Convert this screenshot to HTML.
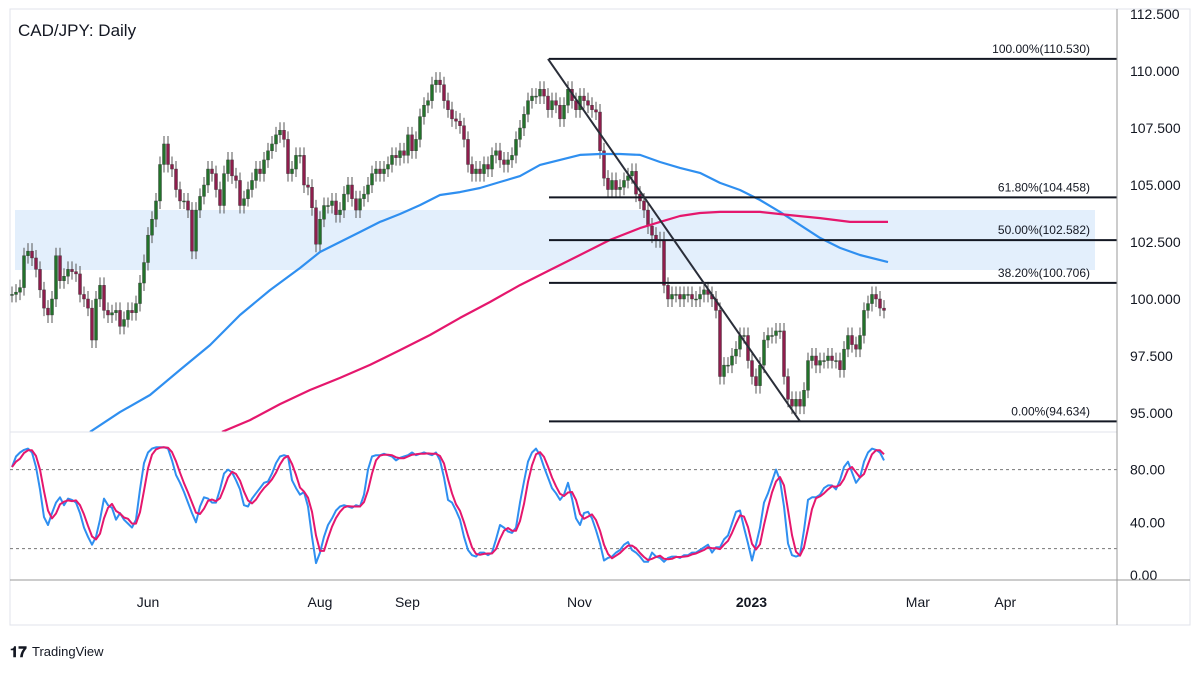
<!DOCTYPE html>
<html><head><meta charset="utf-8"><style>
html,body{margin:0;padding:0;background:#fff;}
svg{display:block;font-family:"Liberation Sans",sans-serif;}
</style></head><body>
<svg id="chart" width="1200" height="675" viewBox="0 0 1200 675" xmlns="http://www.w3.org/2000/svg">
<defs>
<clipPath id="mainClip"><rect x="10" y="9" width="1107" height="423"/></clipPath>
<clipPath id="stochClip"><rect x="10" y="433" width="1107" height="147"/></clipPath>
</defs>
<rect x="10" y="9" width="1180" height="616" fill="#fff" stroke="#e0e3eb"/>
<rect x="15" y="210" width="1080" height="60" fill="#e3effc"/>
<g id="mainG" clip-path="url(#mainClip)"></g>
<g id="stochG" clip-path="url(#stochClip)"></g>
<g id="axisG"></g>
<line x1="10" y1="432" x2="1117" y2="432" stroke="#e0e3eb"/>
<line x1="1117" y1="9" x2="1117" y2="625" stroke="#999"/>
<line x1="10" y1="580" x2="1190" y2="580" stroke="#999"/>
<text x="18" y="36" font-size="17" fill="#131722">CAD/JPY: Daily</text>
<g>
<text x="10" y="657" font-size="15" font-weight="bold" fill="#131722">𝟏𝟕</text>
<text x="32" y="656" font-size="13" fill="#131722">TradingView</text>
</g>
</svg>
<script>
const closes=[100.2,100.3,100.5,101.9,102.1,101.8,101.3,100.4,99.6,99.3,100.0,101.9,100.8,101.0,101.3,101.2,101.1,100.2,100.0,99.6,98.2,100.0,100.6,99.5,99.3,99.4,99.5,98.8,99.1,99.5,99.4,99.8,100.7,101.6,102.8,103.5,104.3,105.9,106.8,105.9,105.7,104.8,104.3,104.3,103.9,102.1,103.9,104.5,105.0,105.7,105.5,104.8,104.1,105.5,106.1,105.4,105.2,104.1,104.4,104.8,105.2,105.7,105.5,106.1,106.5,106.8,107.2,107.4,107.0,105.5,105.7,106.3,106.3,105.0,104.9,104.0,102.4,103.5,104.1,104.1,104.3,103.7,103.9,104.6,105.0,104.4,103.9,104.4,104.6,105.0,105.5,105.7,105.5,105.7,105.9,106.3,106.2,106.5,106.3,107.2,106.5,107.0,108.0,108.5,108.7,109.4,109.6,109.4,108.7,108.3,107.9,107.8,107.6,107.0,105.9,105.5,105.7,105.5,105.9,105.7,106.3,106.5,106.1,105.9,106.1,106.3,107.0,107.5,108.1,108.7,108.9,108.9,109.2,108.9,108.3,108.7,108.5,107.9,108.5,109.2,108.7,108.3,108.9,108.7,108.5,108.3,108.2,106.5,105.3,104.8,105.2,104.8,104.9,105.2,105.4,105.6,104.6,104.3,103.9,103.2,102.8,102.6,102.6,100.6,100.0,100.2,100.2,100.0,100.2,100.2,100.0,100.0,100.2,100.4,100.2,100.0,99.5,96.6,97.1,97.1,97.5,97.8,98.4,98.4,97.3,96.6,96.2,97.1,98.2,98.4,98.4,98.6,98.6,96.6,95.6,95.3,95.6,95.3,96.0,97.3,97.5,97.1,97.3,97.3,97.5,97.3,97.3,96.9,97.8,98.4,98.0,97.8,98.4,99.5,99.8,100.2,100.0,99.6,99.5];
const stochK=[82,90,93,95,96,93,82,65,44,38,47,55,59,53,58,57,55,47,36,29,23,29,42,58,53,51,42,47,42,39,36,42,65,85,93,96,97,97,97,96,87,76,70,63,55,47,40,52,59,58,55,55,65,77,80,78,72,65,53,52,58,62,66,70,71,77,85,90,91,90,72,66,61,63,52,29,9,17,29,38,43,49,52,53,52,51,53,52,61,80,90,91,91,92,91,90,87,89,90,91,93,91,92,93,92,91,93,87,74,57,55,49,42,29,19,15,14,17,17,15,17,27,38,36,33,32,36,55,71,86,93,96,91,82,74,66,62,57,61,70,58,43,38,47,48,43,34,24,11,13,14,17,19,23,25,19,17,14,10,10,17,14,13,10,13,14,14,13,15,15,17,17,19,21,23,17,21,21,27,30,39,48,49,36,24,11,23,36,55,62,71,80,72,52,24,15,14,15,34,57,59,59,61,66,68,68,65,72,82,86,78,70,74,86,93,96,95,93,87];
const ma100Idx=[19.5,27,34.5,42,49.5,57,64.5,72,77,82,87,92,97,102,107,112,117,122,127,132,137,142,147,152,157,162,167,172,177,182,187,192,197,202,207,212,219];
const ma100Val=[94.17,95.04,95.79,96.89,97.98,99.30,100.39,101.36,102.06,102.50,102.94,103.38,103.73,104.12,104.56,104.69,104.87,105.13,105.39,105.88,106.10,106.32,106.36,106.36,106.32,106.01,105.75,105.53,105.09,104.78,104.34,103.82,103.25,102.68,102.24,101.93,101.62];
const ma200Idx=[52.5,59.5,67,74.5,82,89.5,97,104.5,112,119.5,127,134.5,142,149.5,157,162,167,172,177,187,194.5,202,209.5,219];
const ma200Val=[94.17,94.69,95.39,96.01,96.54,97.11,97.76,98.42,99.17,99.87,100.61,101.27,101.93,102.59,103.11,103.38,103.64,103.77,103.82,103.82,103.68,103.55,103.38,103.38];
const fibLevels=[110.530,104.458,102.582,100.706,94.634];
const fibLabels=["100.00%(110.530)","61.80%(104.458)","50.00%(102.582)","38.20%(100.706)","0.00%(94.634)"];
const priceTicks=[112.5,110,107.5,105,102.5,100,97.5,95];
const priceTickLabels=["112.500","110.000","107.500","105.000","102.500","100.000","97.500","95.000"];
const stochTicks=[80,40,0];
const stochTickLabels=["80.00","40.00","0.00"];
const timeLabels=["Jun","Aug","Sep","Nov","2023","Mar","Apr"];
const timeDays=[0,61,92,153,214,273,304]; // days since Jun 1
const trendStart=[134,110.53], trendEnd=[197,94.634];

const NS="http://www.w3.org/2000/svg";
const xB=i=>12+4*i;
const yP=p=>71+(110-p)*22.8;
const yS=v=>575-v*1.317;
const xD=d=>148+d*2.82;
function mk(tag,attrs,parent){const e=document.createElementNS(NS,tag);for(const k in attrs)e.setAttribute(k,attrs[k]);parent.appendChild(e);return e;}
const mainG=document.getElementById('mainG'),stochG=document.getElementById('stochG'),axisG=document.getElementById('axisG');

// candles
for(let i=0;i<closes.length;i++){
  const c=closes[i],o=i?closes[i-1]:c;
  const hi=Math.max(o,c)+0.35,lo=Math.min(o,c)-0.35;
  const up=c>=o,x=xB(i);
  const w=mk('line',{x1:x,x2:x,y1:yP(hi),y2:yP(lo),stroke:'#555','stroke-width':1},mainG);
  
  
  const t=Math.min(yP(o),yP(c)),h=Math.max(1,Math.abs(yP(o)-yP(c)));
  const b=mk('rect',{x:x-1.5,y:t,width:3,height:h,fill:up?'#22722a':'#8e1d4c',stroke:'#333','stroke-width':0.4},mainG);
  
  
}
function line(idx,val,yf,color,w,parent,name){
  const pts=idx.map((d,i)=>xB(d).toFixed(1)+','+yf(val[i]).toFixed(1)).join(' ');
  const p=mk('polyline',{points:pts,fill:'none',stroke:color,'stroke-width':w,'stroke-linejoin':'round'},parent);
  
  
}
line(ma100Idx,ma100Val,yP,'#2f8ff0',2.2,mainG,'ma-100-line');
line(ma200Idx,ma200Val,yP,'#e5176d',2.2,mainG,'ma-200-line');
// fib
fibLevels.forEach((lv,i)=>{
  const l=mk('line',{x1:549,x2:1117,y1:yP(lv),y2:yP(lv),stroke:'#131722','stroke-width':2},axisG);
  
  
  const t=mk('text',{x:1090,y:yP(lv)-6,'text-anchor':'end','font-size':12,fill:'#131722'},axisG);
  t.textContent=fibLabels[i];
  
  
});
const tl=mk('line',{x1:xB(trendStart[0]),y1:yP(trendStart[1]),x2:xB(trendEnd[0]),y2:yP(trendEnd[1]),stroke:'#2a2e39','stroke-width':2},axisG);


// stoch
[80,20].forEach(v=>{
  const d=mk('line',{x1:10,x2:1117,y1:yS(v),y2:yS(v),stroke:'#777','stroke-dasharray':'3,3','stroke-width':1},stochG);
  
  
});
const kIdx=stochK.map((_,i)=>i);
const stochD=stochK.map((v,i)=>{const a=stochK.slice(Math.max(0,i-2),i+1);return a.reduce((s,x)=>s+x,0)/a.length;});
line(kIdx,stochK,yS,'#2f8ff0',2,stochG,'stoch-k-line');
line(kIdx,stochD,yS,'#e5176d',2,stochG,'stoch-d-line');
// axes labels
priceTicks.forEach((p,i)=>{
  const t=mk('text',{x:1130,y:yP(p)+5,'font-size':14,fill:'#131722'},axisG);
  t.textContent=priceTickLabels[i];
  
  
});
stochTicks.forEach((v,i)=>{
  const t=mk('text',{x:1130,y:yS(v)+5,'font-size':14,fill:'#131722'},axisG);
  t.textContent=stochTickLabels[i];
  
  
});
timeLabels.forEach((s,i)=>{
  const t=mk('text',{x:xD(timeDays[i]),y:607,'text-anchor':'middle','font-size':14,fill:'#131722','font-weight':s==='2023'?'bold':'normal'},axisG);
  t.textContent=s;
  
  
});
</script>
</body></html>
